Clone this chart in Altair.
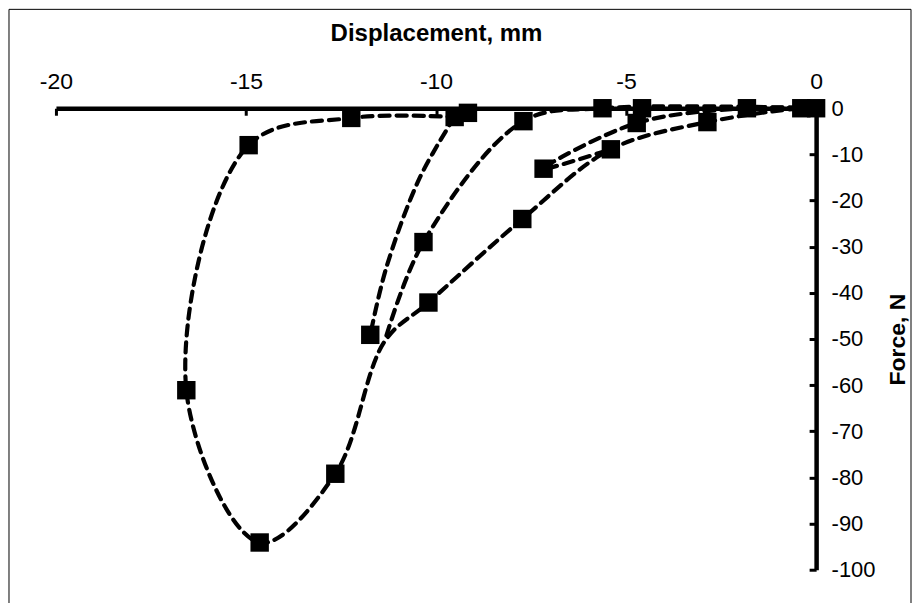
import altair as alt
import pandas as pd

# ---- data ----
# dashed curves (line vertices, in drawing order)
s1_x = [0, -0.39, -2.86, -5.40, -7.73, -10.20, -11.35, -12.65, -14.64, -16.57, -14.93, -12.23, -9.51]
s1_y = [0, 0, -3.0, -8.9, -24.0, -42.1, -50.5, -79.2, -94.1, -61.1, -8.0, -2.1, -1.9]
s2_x = [-9.51, -10.43, -11.31, -11.73]
s2_y = [-1.9, -15.1, -34.6, -49.1]
s3_x = [0, -5.62, -7.70, -10.33, -11.35]
s3_y = [0, 0, -2.8, -29.0, -50.5]
s4_x = [0, -1.82, -4.72, -7.17, -5.40]
s4_y = [0, 0, -3.2, -13.1, -8.9]

# square markers
marker_x = [0, -0.39, -1.82, -4.58, -5.62, -2.86, -4.72, -5.40, -7.17, -7.70, -7.73,
            -9.16, -9.51, -10.33, -10.20, -11.73, -12.23, -12.65, -14.64, -16.57, -14.93]
marker_y = [0, 0, 0, 0, 0, -3.0, -3.2, -8.9, -13.1, -2.8, -24.0,
            -1.0, -1.9, -29.0, -42.1, -49.1, -2.1, -79.2, -94.1, -61.1, -8.0]

x_ticks = [-20, -15, -10, -5, 0]
y_ticks = [-100, -90, -80, -70, -60, -50, -40, -30, -20, -10, 0]

W, H = 761, 462
FONT = "Liberation Sans"

rows = []
for name, xs, ys in [("s1", s1_x, s1_y), ("s2", s2_x, s2_y), ("s3", s3_x, s3_y), ("s4", s4_x, s4_y)]:
    for i, (a, b) in enumerate(zip(xs, ys)):
        rows.append({"series": name, "i": i, "x": a, "y": b})
lines_df = pd.DataFrame(rows)
markers_df = pd.DataFrame({"x": marker_x, "y": marker_y})

xscale = alt.Scale(domain=[-20, 0], nice=False, zero=False)
yscale = alt.Scale(domain=[-100, 0], nice=False, zero=False)

lines = alt.Chart(lines_df).mark_line(
    interpolate="catmull-rom", color="black", strokeWidth=4.2,
    strokeDash=[10, 7], strokeCap="round"
).encode(
    x=alt.X("x:Q", scale=xscale, axis=alt.Axis(
        orient="top", values=x_ticks, title="Displacement, mm", ticks=False, tickSize=0,
        grid=False, domainColor="black", domainWidth=4.5, labelFont=FONT, labelFontSize=23,
        labelColor="black", labelPadding=15, labelExpr="datum.value + ''",
        titleFont=FONT, titleFontSize=24,
        titleFontWeight="bold", titleColor="black", titlePadding=25, labelFlush=False)),
    y=alt.Y("y:Q", scale=yscale, axis=alt.Axis(
        orient="right", values=y_ticks, title="Force, N", ticks=False, tickSize=0,
        grid=False, domainColor="black", domainWidth=4.5, labelFont=FONT, labelFontSize=22,
        labelColor="black", labelPadding=15, labelExpr="datum.value + ''",
        titleFont=FONT, titleFontSize=23,
        titleFontWeight="bold", titleColor="black", titlePadding=34, titleAngle=270,
        labelFlush=False)),
    detail="series:N",
    order="i:Q",
)

points = alt.Chart(markers_df).mark_point(
    shape="square", filled=True, color="black", size=340, opacity=1
).encode(
    x=alt.X("x:Q", scale=xscale, axis=alt.Axis(
        orient="bottom", offset=-H, values=x_ticks, labels=False, domain=False,
        ticks=True, tickSize=7, tickWidth=3, tickColor="black", grid=False, title=None)),
    y=alt.Y("y:Q", scale=yscale, axis=alt.Axis(
        orient="left", offset=-W, values=y_ticks, labels=False, domain=False,
        ticks=True, tickSize=7, tickWidth=3, tickColor="black", grid=False, title=None)),
)

frame = alt.Chart(pd.DataFrame({"k": [0]})).mark_rect(
    fillOpacity=0, stroke="black", strokeWidth=1
).encode(
    x=alt.value(-47), x2=alt.value(856), y=alt.value(-99), y2=alt.value(530)
)

chart = alt.layer(lines, points, frame).resolve_axis(
    x="independent", y="independent"
).properties(
    width=W, height=H, padding=0
).configure_view(stroke=None)

chart.save("out.html", embed_options={"renderer": "svg", "actions": False})
